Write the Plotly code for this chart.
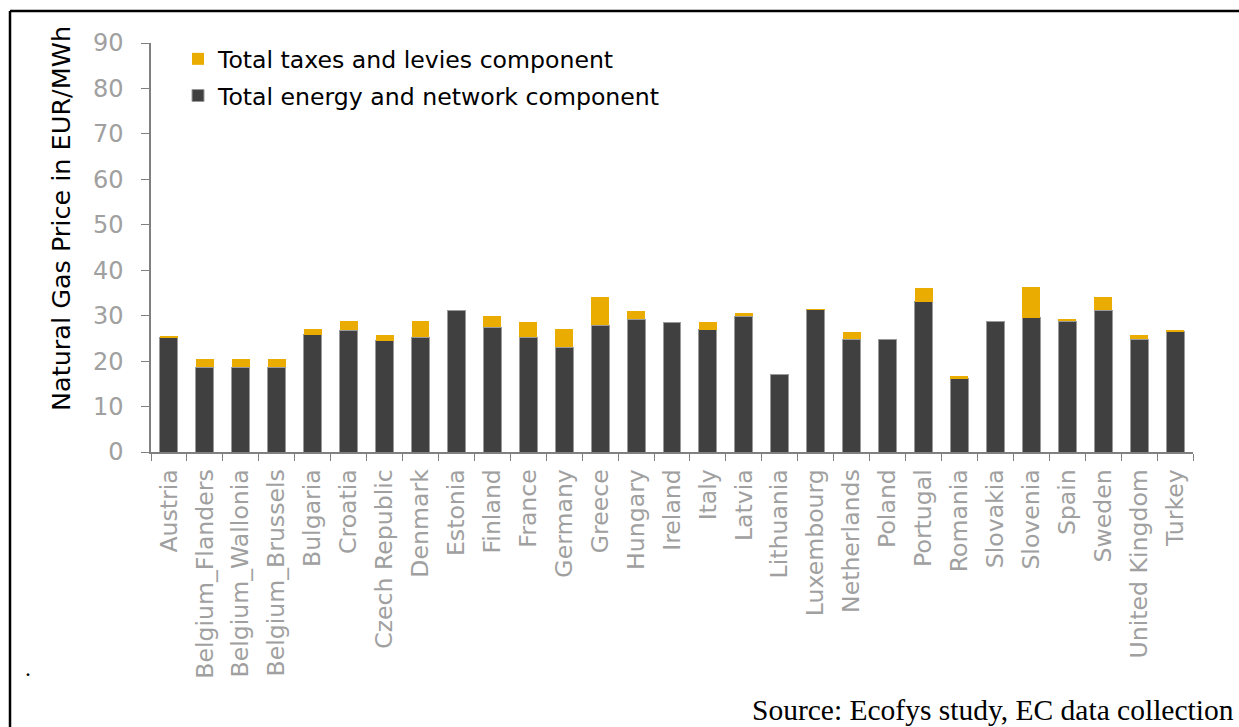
import plotly.graph_objects as go

# Natural gas prices by country, split into components (EUR/MWh)
countries = [
    "Austria", "Belgium_Flanders", "Belgium_Wallonia", "Belgium_Brussels",
    "Bulgaria", "Croatia", "Czech Republic", "Denmark", "Estonia", "Finland",
    "France", "Germany", "Greece", "Hungary", "Ireland", "Italy", "Latvia",
    "Lithuania", "Luxembourg", "Netherlands", "Poland", "Portugal", "Romania",
    "Slovakia", "Slovenia", "Spain", "Sweden", "United Kingdom", "Turkey",
]
energy_network = [
    25.1, 18.7, 18.7, 18.7, 25.8, 26.8, 24.5, 25.2, 31.2, 27.5,
    25.2, 23.0, 27.9, 29.2, 28.6, 26.9, 29.9, 17.0, 31.3, 24.8,
    24.8, 33.1, 16.1, 28.8, 29.5, 28.8, 31.2, 24.8, 26.6,
]
taxes_levies = [
    0.4, 1.7, 1.7, 1.7, 1.2, 2.1, 1.2, 3.7, 0.0, 2.4,
    3.4, 4.1, 6.1, 1.9, 0.0, 1.75, 0.65, 0.0, 0.1, 1.6,
    0.0, 2.9, 0.65, 0.0, 6.8, 0.45, 2.8, 0.9, 0.3,
]
y_ticks = [0, 10, 20, 30, 40, 50, 60, 70, 80, 90]

W, H = 1239, 727
M_L, M_R, M_T, M_B = 151, 46, 43, 275
PW, PH = W - M_L - M_R, H - M_T - M_B


def px_x(x):
    return (x - M_L) / PW


def px_y(y):
    return (H - M_B - y) / PH


SANS = "DejaVu Sans"
TICK_GRAY = "#A0A0A0"
AXIS_GRAY = "#808080"

fig = go.Figure()
fig.add_trace(go.Bar(
    x=countries, y=energy_network, name="Total energy and network component",
    marker=dict(color="#404040", line=dict(color="#9a9a9a", width=1)),
    legendgroup="energy", legendrank=2,
))
fig.add_trace(go.Bar(
    x=countries, y=taxes_levies, name="Total taxes and levies component",
    marker=dict(color="#EAAC00", line=dict(width=0)),
    legendgroup="taxes", legendrank=1,
))

fig.update_layout(
    width=W, height=H,
    margin=dict(l=M_L, r=M_R, t=M_T, b=M_B, autoexpand=False),
    barmode="stack", bargap=0.5,
    plot_bgcolor="white", paper_bgcolor="white",
    font=dict(family=SANS, size=24, color="black"),
    showlegend=True,
    legend=dict(
        x=px_x(178), y=px_y(37), xanchor="left", yanchor="top",
        traceorder="grouped", tracegroupgap=3,
        font=dict(family=SANS, size=23.6, color="black"),
        bgcolor="rgba(0,0,0,0)",
    ),
    xaxis=dict(
        type="category", tickangle=-90, tickson="boundaries",
        ticks="outside", ticklen=7, tickcolor=AXIS_GRAY, tickwidth=1,
        showline=True, linecolor=AXIS_GRAY, linewidth=1.5,
        showgrid=False, ticklabelstandoff=6,
        tickfont=dict(family=SANS, size=23.6, color=TICK_GRAY),
    ),
    yaxis=dict(
        range=[0, 90], tickvals=y_ticks,
        ticks="outside", ticklen=8, tickcolor=AXIS_GRAY, tickwidth=1,
        showline=True, linecolor=AXIS_GRAY, linewidth=1.5,
        showgrid=False, zeroline=False, ticklabelstandoff=13,
        tickfont=dict(family=SANS, size=24, color=TICK_GRAY),
    ),
)

# Axis title placed as rotated text
fig.add_annotation(
    text="Natural Gas Price in EUR/MWh", textangle=-90,
    xref="paper", yref="paper", x=px_x(61), y=px_y(219),
    xanchor="center", yanchor="middle", showarrow=False,
    font=dict(family=SANS, size=25.5, color="black"),
)

# Source note and stray period
fig.add_annotation(
    text="Source: Ecofys study, EC data collection",
    xref="paper", yref="paper", x=px_x(1236), y=px_y(710),
    xanchor="right", yanchor="middle", showarrow=False,
    font=dict(family="Liberation Serif", size=29.5, color="black"),
)
fig.add_annotation(
    text=".", xref="paper", yref="paper", x=px_x(28), y=px_y(668),
    xanchor="center", yanchor="middle", showarrow=False,
    font=dict(family="Liberation Serif", size=24, color="black"),
)

# Frame around the figure (top and left edges)
fig.add_shape(type="line", xref="paper", yref="paper",
              x0=px_x(10), y0=px_y(11), x1=px_x(W + 5), y1=px_y(11),
              line=dict(color="black", width=2.5))
fig.add_shape(type="line", xref="paper", yref="paper",
              x0=px_x(10), y0=px_y(11), x1=px_x(10), y1=px_y(H + 5),
              line=dict(color="black", width=2.5))

fig.write_html("out.html")
